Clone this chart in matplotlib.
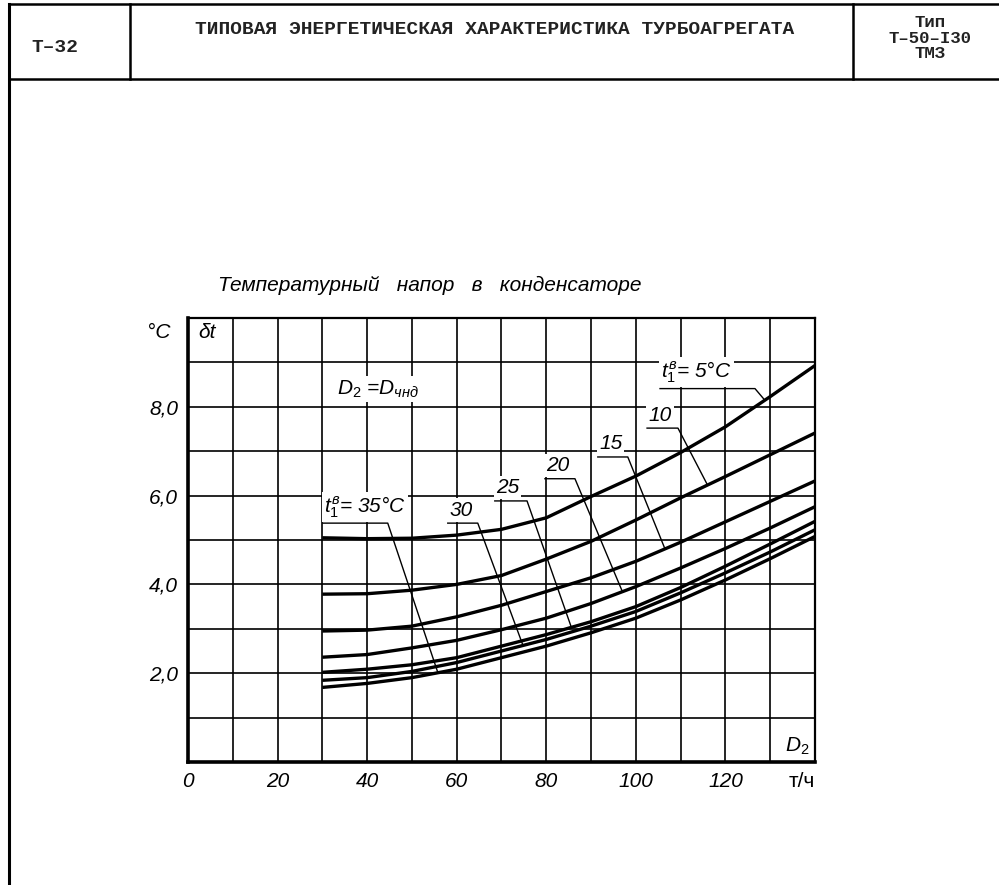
import numpy as np
import matplotlib
matplotlib.use('Agg')
import matplotlib.pyplot as plt
from matplotlib.lines import Line2D
from matplotlib.ticker import MultipleLocator, FuncFormatter

# расход пара в конденсатор D2, т/ч
D2 = [30, 40, 50, 60, 70, 80, 90, 100, 110, 120, 130, 140]

# температурный напор dt, °C, для разных t1в
dt_5 = [5.05, 5.03, 5.04, 5.11, 5.24, 5.50, 5.98, 6.44, 6.97, 7.55, 8.23, 8.93]
dt_10 = [3.78, 3.79, 3.87, 4.00, 4.20, 4.57, 4.97, 5.45, 5.95, 6.43, 6.92, 7.41]
dt_15 = [2.95, 2.97, 3.06, 3.27, 3.53, 3.84, 4.15, 4.52, 4.95, 5.41, 5.87, 6.33]
dt_20 = [2.36, 2.42, 2.57, 2.74, 2.98, 3.24, 3.57, 3.95, 4.37, 4.81, 5.27, 5.75]
dt_25 = [2.02, 2.09, 2.19, 2.35, 2.61, 2.87, 3.16, 3.50, 3.93, 4.41, 4.91, 5.42]
dt_30 = [1.84, 1.90, 2.04, 2.24, 2.50, 2.76, 3.06, 3.39, 3.81, 4.26, 4.73, 5.23]
dt_35 = [1.68, 1.77, 1.90, 2.09, 2.35, 2.61, 2.91, 3.24, 3.65, 4.10, 4.58, 5.08]

t1 = [5, 10, 15, 20, 25, 30, 35]
curves = [dt_5, dt_10, dt_15, dt_20, dt_25, dt_30, dt_35]
curve_labels = [r'$t_1^в$= 5°C', '10', '15', '20', '25', '30', r'$t_1^в$= 35°C']

x_ticklabels = {0: '0', 20: '20', 40: '40', 60: '60', 80: '80', 100: '100',
                120: '120', 140: 'т/ч'}
y_ticklabels = {2: '2,0', 4: '4,0', 6: '6,0', 8: '8,0'}

# выноски: (начало полки, конец полки, высота полки, x точки на кривой)
leaders = [(105.4, 126.6, 8.41, 128.8),
           (102.5, 109.4, 7.52, 116.0),
           (91.5, 98.2, 6.87, 106.5),
           (79.7, 86.4, 6.38, 97.0),
           (68.5, 75.7, 5.88, 85.6),
           (58.0, 64.7, 5.38, 74.8),
           (30.1, 44.6, 5.38, 55.8)]

hand = 'Liberation Sans'
plt.rcParams['mathtext.fontset'] = 'custom'
plt.rcParams['mathtext.rm'] = hand
plt.rcParams['mathtext.it'] = hand + ':italic'
plt.rcParams['mathtext.bf'] = hand + ':italic:bold'

W, H = 999, 885
fig = plt.figure(figsize=(W / 100, H / 100), dpi=100)
fig.patch.set_facecolor('white')


def px(x, y):
    return x / W, 1 - y / H


def fline(x0, y0, x1, y1, lw=1.8):
    a, b = px(x0, y0)
    c, d = px(x1, y1)
    fig.add_artist(Line2D([a, c], [b, d], color='black', lw=lw,
                          transform=fig.transFigure))


# рамка штампа
fline(9, 4, 999, 4)
fline(9, 79, 999, 79)
fline(9, 4, 9, 885, lw=2.2)
fline(130, 4, 130, 79)
fline(853, 4, 853, 79)

mono = dict(family='Liberation Mono', fontsize=14, fontweight='bold', color='#222222')
fig.text(*px(55, 48), 'Т–32', ha='center', va='center', **mono)
fig.text(*px(495, 30), 'ТИПОВАЯ ЭНЕРГЕТИЧЕСКАЯ ХАРАКТЕРИСТИКА ТУРБОАГРЕГАТА',
         ha='center', va='center', **mono)
mono_s = dict(mono, fontsize=12.5)
fig.text(*px(930, 27), 'Тип', ha='center', va='baseline', **mono_s)
fig.text(*px(930, 43), 'Т–50–I30', ha='center', va='baseline', **mono_s)
fig.text(*px(930, 58), 'ТМЗ', ha='center', va='baseline', **mono_s)

fig.text(*px(218, 291), 'Температурный   напор   в   конденсаторе',
         family='Liberation Sans', style='italic', fontsize=15, va='baseline')

ax = fig.add_axes([188 / W, 1 - 762 / H, (815 - 188) / W, (762 - 318) / H])
ax.set_xlim(0, 140)
ax.set_ylim(0, 10)
ax.xaxis.set_major_locator(MultipleLocator(10))
ax.yaxis.set_major_locator(MultipleLocator(1))
ax.grid(True, color='black', lw=1.2)
ax.set_axisbelow(True)
ax.xaxis.set_major_formatter(FuncFormatter(lambda v, p: x_ticklabels.get(int(round(v)), '')))
ax.yaxis.set_major_formatter(FuncFormatter(lambda v, p: y_ticklabels.get(int(round(v)), '')))
ax.tick_params(length=0, labelsize=15, pad=7)
fig.canvas.draw()
for lab in ax.get_xticklabels() + ax.get_yticklabels():
    lab.set_family(hand)
    # курсивное «т» выглядит как «m», поэтому единицы прямым шрифтом
    if lab.get_text() == 'т/ч':
        lab.set_style('normal')
        lab.set_horizontalalignment('right')
    else:
        lab.set_style('italic')
for s in ['left', 'bottom']:
    ax.spines[s].set_linewidth(2.6)
for s in ['top', 'right']:
    ax.spines[s].set_linewidth(1.6)

for vals in curves:
    ax.plot(D2, vals, color='black', lw=2.4, solid_capstyle='butt', zorder=4)

hand_txt = dict(family=hand, style='italic', fontsize=15, color='black')
box = dict(facecolor='white', edgecolor='none', pad=1.5)
for vals, lab, (x0, x1, yl, xe) in zip(curves, curve_labels, leaders):
    ye = np.interp(xe, D2, vals)
    ax.plot([x0, x1, xe], [yl, yl, ye], color='black', lw=1.0, zorder=5)
    ax.text(x0 + 0.3, yl + 0.08, lab, ha='left', va='bottom', bbox=box,
            zorder=3, **hand_txt)

ax.text(33.3, 8.4, r'$D_2$ =$D_{чнд}$', ha='left', va='center', bbox=box,
        zorder=3, **hand_txt)
ax.text(2.2, 9.68, 'δt', ha='left', va='center', **hand_txt)
ax.text(-3.8, 9.68, '°C', ha='right', va='center', clip_on=False, **hand_txt)
ax.text(136, 0.35, r'$D_2$', ha='center', va='center', **hand_txt)

fig.savefig('out.png', dpi=100, facecolor='white')
